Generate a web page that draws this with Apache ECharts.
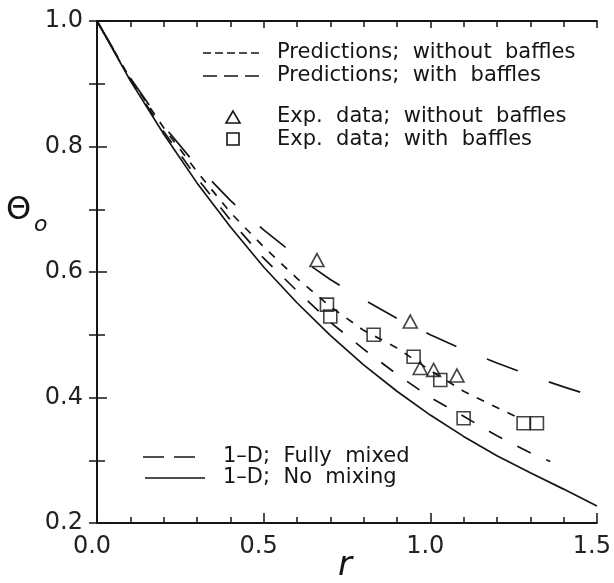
<!DOCTYPE html>
<html>
<head>
<meta charset="utf-8">
<script src="https://cdn.jsdelivr.net/npm/echarts@6/dist/echarts.min.js"></script>
<style>
  html, body { margin: 0; padding: 0; background: #fff; }
  #main { width: 614px; height: 583px; }
</style>
</head>
<body>
<div id="main"></div>
<script>
// 1-D, no mixing (solid)
var noMixing = [[0, 1.0], [0.1, 0.905], [0.2, 0.82], [0.3, 0.742], [0.4, 0.672], [0.5, 0.608],
	[0.6, 0.551], [0.7, 0.499], [0.8, 0.452], [0.9, 0.41], [1.0, 0.372], [1.1, 0.338],
	[1.2, 0.307], [1.3, 0.28], [1.4, 0.254], [1.5, 0.227]];
// 1-D, fully mixed (long dash)
var fullyMixed = [[0, 1.0], [0.1, 0.909], [0.2, 0.833], [0.3, 0.769], [0.4, 0.714], [0.5, 0.667],
	[0.6, 0.625], [0.7, 0.588], [0.8, 0.556], [0.9, 0.526], [1.0, 0.50], [1.1, 0.476],
	[1.2, 0.455], [1.3, 0.435], [1.4, 0.417], [1.5, 0.40]];
// predictions with baffles (medium dash)
var predWith = [[0, 1.0], [0.1, 0.906], [0.2, 0.824], [0.3, 0.75], [0.4, 0.683], [0.5, 0.622],
	[0.6, 0.57], [0.7, 0.52], [0.8, 0.477], [0.9, 0.437], [1.0, 0.40], [1.1, 0.37],
	[1.2, 0.339], [1.3, 0.312], [1.36, 0.298]];
// predictions without baffles (short dash)
var predWithout = [[0, 1.0], [0.1, 0.908], [0.2, 0.83], [0.3, 0.76], [0.4, 0.695], [0.5, 0.64],
	[0.6, 0.59], [0.7, 0.545], [0.8, 0.507], [0.9, 0.479], [1.0, 0.443], [1.1, 0.41],
	[1.2, 0.384], [1.27, 0.366]];
// experimental points
var expWithout = [[0.66, 0.619], [0.94, 0.521], [0.97, 0.447], [1.01, 0.444], [1.08, 0.435]];
var expWith = [[0.69, 0.548], [0.70, 0.529], [0.83, 0.50], [0.95, 0.465], [1.03, 0.428],
	[1.10, 0.367], [1.28, 0.359], [1.32, 0.359]];

var xTicks = { min: 0, max: 1.5, interval: 0.5 };
var yTicks = { min: 0.2, max: 1.0, interval: 0.2 };

var ink = '#151515';
var font = 'DejaVu Sans';

var chart = echarts.init(document.getElementById('main'));

function axisLine() {
	return { show: true, lineStyle: { color: ink, width: 1.8 } };
}

function curve(name, data, dash, offset) {
	return {
		name: name,
		type: 'line',
		data: data,
		showSymbol: false,
		smooth: false,
		lineStyle: { color: ink, width: 1.7, type: dash, dashOffset: offset || 0 },
		z: 3
	};
}

function legendLine(x, y, dash) {
	return {
		type: 'line',
		shape: { x1: x, y1: y, x2: x + 60, y2: y },
		style: { stroke: ink, lineWidth: 1.7, lineDash: dash }
	};
}

function legendText(x, y, txt) {
	return {
		type: 'text',
		x: x,
		y: y,
		style: { text: txt, fill: ink, font: '21px "' + font + '"', textVerticalAlign: 'middle' }
	};
}

var option = {
	animation: false,
	backgroundColor: '#fff',
	grid: { left: 97, right: 16, top: 21, bottom: 60 },
	xAxis: [
		{
			type: 'value', min: xTicks.min, max: xTicks.max, interval: xTicks.interval,
			axisLine: axisLine(),
			axisTick: { inside: true, length: 10, lineStyle: { color: ink, width: 1.5 } },
			minorTick: { show: true, splitNumber: 5, length: 6, lineStyle: { color: ink, width: 1.5 } },
			splitLine: { show: false },
			axisLabel: {
				margin: 12, color: '#222', fontFamily: font, fontSize: 24,
				padding: [0, 10, 0, 0],
				formatter: function(v) { return v.toFixed(1); }
			}
		},
		{
			type: 'value', position: 'top', min: xTicks.min, max: xTicks.max, interval: xTicks.interval,
			axisLine: axisLine(),
			axisTick: { inside: true, length: 7, lineStyle: { color: ink, width: 1.5 } },
			minorTick: { show: true, splitNumber: 5, length: 6, lineStyle: { color: ink, width: 1.5 } },
			splitLine: { show: false },
			axisLabel: { show: false }
		}
	],
	yAxis: [
		{
			type: 'value', min: yTicks.min, max: yTicks.max, interval: yTicks.interval,
			axisLine: axisLine(),
			axisTick: { inside: true, length: 10, lineStyle: { color: ink, width: 1.5 } },
			minorTick: { show: true, splitNumber: 2, length: 8, lineStyle: { color: ink, width: 1.5 } },
			splitLine: { show: false },
			axisLabel: {
				margin: 14, color: '#222', fontFamily: font, fontSize: 24,
				formatter: function(v) { return v.toFixed(1); }
			}
		},
		{
			type: 'value', position: 'right', min: yTicks.min, max: yTicks.max, interval: yTicks.interval,
			axisLine: axisLine(),
			axisTick: { inside: true, length: 8, lineStyle: { color: ink, width: 1.5 } },
			minorTick: { show: true, splitNumber: 2, length: 8, lineStyle: { color: ink, width: 1.5 } },
			splitLine: { show: false },
			axisLabel: { show: false }
		}
	],
	series: [
		curve('1-D; No mixing', noMixing, 'solid'),
		curve('1-D; Fully mixed', fullyMixed, [33, 33]),
		curve('Predictions; with baffles', predWith, [15, 17]),
		curve('Predictions; without baffles', predWithout, [8, 9]),
		{
			name: 'Exp. data; without baffles',
			type: 'scatter',
			data: expWithout,
			symbol: 'triangle',
			symbolSize: [14, 13],
			itemStyle: { color: 'rgba(0,0,0,0)', borderColor: ink, borderWidth: 1.6 },
			z: 5
		},
		{
			name: 'Exp. data; with baffles',
			type: 'scatter',
			data: expWith,
			symbol: 'rect',
			symbolSize: 13,
			itemStyle: { color: 'rgba(0,0,0,0)', borderColor: ink, borderWidth: 1.6 },
			z: 5
		}
	],
	graphic: [
		// upper legend
		legendLine(203, 53, [8, 4]),
		legendText(277, 53, 'Predictions;  without  baffles'),
		legendLine(203, 76, [14, 7]),
		legendText(277, 76, 'Predictions;  with  baffles'),
		{
			type: 'polygon',
			shape: { points: [[233, 111], [226, 123], [240, 123]] },
			style: { fill: 'none', stroke: ink, lineWidth: 1.6 }
		},
		legendText(277, 117, 'Exp.  data;  without  baffles'),
		{
			type: 'rect',
			shape: { x: 227, y: 133, width: 12, height: 12 },
			style: { fill: 'none', stroke: ink, lineWidth: 1.6 }
		},
		legendText(277, 140, 'Exp.  data;  with  baffles'),
		// lower legend
		{
			type: 'line',
			shape: { x1: 143, y1: 457, x2: 205, y2: 457 },
			style: { stroke: ink, lineWidth: 1.7, lineDash: [21, 10] }
		},
		legendText(223, 457, '1\u2013D;  Fully  mixed'),
		{
			type: 'line',
			shape: { x1: 145, y1: 478, x2: 205, y2: 478 },
			style: { stroke: ink, lineWidth: 1.7 }
		},
		legendText(223, 478, '1\u2013D;  No  mixing'),
		// axis titles
		{
			type: 'text', x: 6, y: 211,
			style: { text: '\u0398', fill: ink, font: '32px "' + font + '"', textVerticalAlign: 'middle' }
		},
		{
			type: 'text', x: 34, y: 225,
			style: { text: 'o', fill: ink, font: 'italic 22px "' + font + '"', textVerticalAlign: 'middle' }
		},
		{
			type: 'text', x: 345, y: 566,
			style: { text: 'r', fill: ink, font: 'italic 34px "' + font + '"', textAlign: 'center', textVerticalAlign: 'middle' }
		}
	]
};

chart.setOption(option);
</script>
</body>
</html>
